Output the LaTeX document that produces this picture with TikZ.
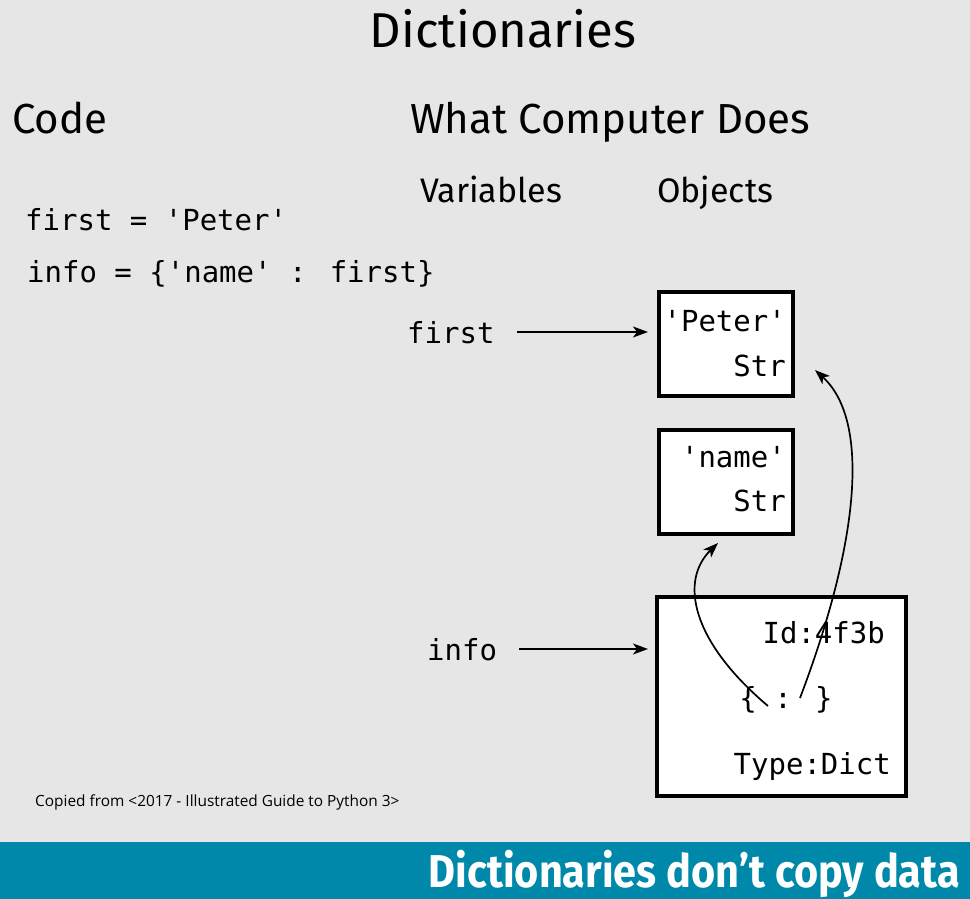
\documentclass[tikz,border=0pt]{standalone}
\usepackage{fontspec}
\setmainfont{Fira Sans}
\newfontfamily\codefont{DejaVu Sans Mono}
\newfontfamily\capfont{Open Sans}
\usetikzlibrary{arrows.meta}
\definecolor{bggray}{RGB}{230,230,230}
\definecolor{banner}{RGB}{0,136,170}
\tikzset{
  obj/.style={draw=black,line width=4pt,fill=white,rectangle,inner sep=0pt},
  code/.style={font=\codefont\fontsize{29}{32}\selectfont,inner sep=0pt},
  head/.style={font=\fontsize{42}{46}\selectfont,inner sep=0pt,anchor=base west},
  sub/.style={font=\fontsize{34}{38}\selectfont,inner sep=0pt,anchor=base west},
  ref/.style={line width=1.7pt,-{Stealth[length=15pt,width=11pt,inset=4pt]}},
}
\begin{document}
\begin{tikzpicture}[x=1pt,y=-1pt]
\useasboundingbox (0,0) rectangle (970,899);
\fill[bggray] (0,0) rectangle (970,899);
\fill[banner] (0,842) rectangle (970,899);

\node[font=\fontsize{49}{52}\selectfont,inner sep=0pt,anchor=base] (title) at (503,48) {Dictionaries};
\node[head] (codeh) at (12,133) {Code};
\node[head] (whath) at (410,133) {What Computer Does};
\node[sub] (varh) at (420,202) {Variables};
\node[sub] (objh) at (657,202) {Objects};

\node[code,anchor=base west] (l1) at (25,230) {first = 'Peter'};
\node[code,anchor=base west] (l2) at (27,282) {info = \{'name' : first\}};

\node[code,anchor=base west] (vfirst) at (407,343) {first};
\node[code,anchor=base west] (vinfo) at (427,660) {info};

\node[obj,minimum width=134pt,minimum height=104pt] (peter) at (726,344) {};
\node[code,anchor=base east] (pt1) at (786,331) {'Peter'};
\node[code,anchor=base east] (pt2) at (786,376) {Str};

\node[obj,minimum width=134pt,minimum height=104pt] (name) at (726,482) {};
\node[code,anchor=base east] (nt1) at (786,467) {'name'};
\node[code,anchor=base east] (nt2) at (786,511) {Str};

\node[obj,minimum width=249pt,minimum height=199pt] (dict) at (781.5,696.5) {};
\node[code,anchor=base east] (did) at (885,643) {Id:4f3b};
\node[code,anchor=base] (dbr) at (786,708) {\{ : \}};
\node[code,anchor=base east] (dty) at (891,774) {Type:Dict};

\coordinate (k) at (768,706);
\coordinate (v) at (800,698);
\coordinate (ktip) at (718,543);
\coordinate (vtip) at (815,370);

\draw[ref] (vfirst.east |- 0,332) ++(22,0) coordinate (fa) -- (peter.west |- fa) [shorten >=9pt];
\draw[ref] (vinfo.east |- 0,649) ++(22,0) coordinate (ia) -- (dict.west |- ia) [shorten >=7pt];

\draw[ref] (k) .. controls (690,640) and (680,580) .. (ktip);
\draw[ref] (v) .. controls (860,540) and (870,420) .. (vtip);

\node[font=\capfont\fontsize{15.4}{17}\selectfont,inner sep=0pt,anchor=base west] (cap) at (35,806) {Copied from <2017 - Illustrated Guide to Python 3>};

\node[font=\fontsize{46}{50}\selectfont\bfseries,text=white,inner sep=0pt,anchor=base east,xscale=0.9] (bt) at (960,887) {Dictionaries don’t copy data};
\end{tikzpicture}
\end{document}
